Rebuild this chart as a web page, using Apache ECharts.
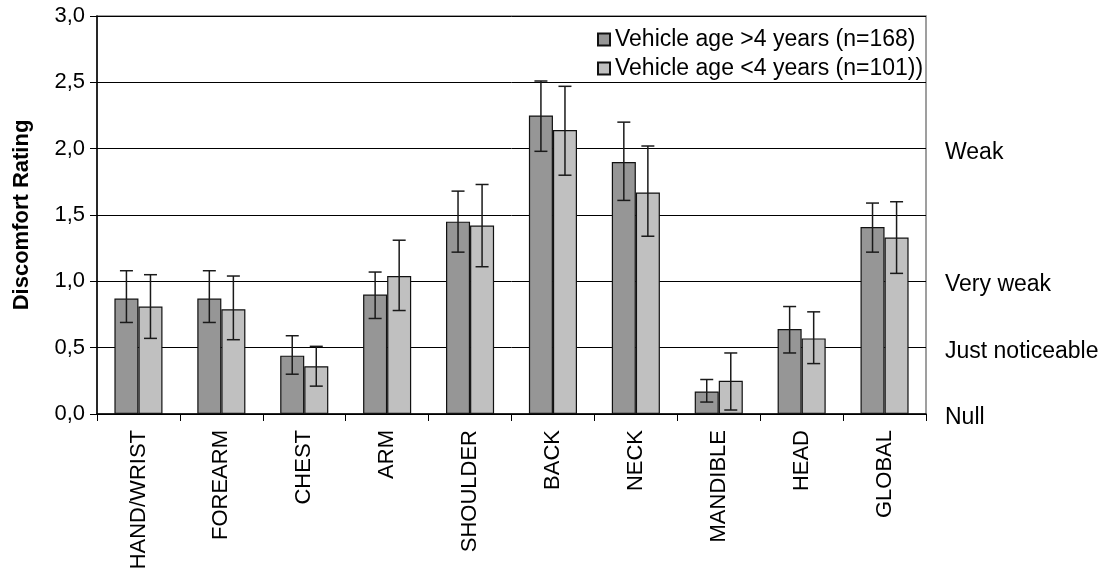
<!DOCTYPE html>
<html>
<head>
<meta charset="utf-8">
<script src="https://cdn.jsdelivr.net/npm/echarts@6/dist/echarts.min.js"></script>
<style>html,body{margin:0;padding:0;background:#fff;}#c{width:1105px;height:573px;}</style>
</head>
<body>
<div id="c"></div>
<script>
var categories = ['HAND/WRIST','FOREARM','CHEST','ARM','SHOULDER','BACK','NECK','MANDIBLE','HEAD','GLOBAL'];
var seriesNames = ['Vehicle age >4 years (n=168)', 'Vehicle age <4 years (n=101))'];
var olderMean = [0.87,0.87,0.44,0.90,1.45,2.25,1.90,0.17,0.64,1.41];
var olderLow  = [0.69,0.69,0.30,0.72,1.22,1.98,1.61,0.09,0.46,1.22];
var olderHigh = [1.08,1.08,0.59,1.07,1.68,2.51,2.20,0.26,0.81,1.59];
var newerMean = [0.81,0.79,0.36,1.04,1.42,2.14,1.67,0.25,0.57,1.33];
var newerLow  = [0.57,0.56,0.21,0.78,1.11,1.80,1.34,0.03,0.38,1.06];
var newerHigh = [1.05,1.04,0.51,1.31,1.73,2.47,2.02,0.46,0.77,1.60];
var yTicks = [0, 0.5, 1.0, 1.5, 2.0, 2.5, 3.0];
var rightLabels = {'0': 'Null', '0.5': 'Just noticeable', '1': 'Very weak', '2': 'Weak'};

var FONT = 'Liberation Sans, Arial, sans-serif';
var BAR_FRAC = 0.29;

function errData(low, high) {
  return categories.map(function (c, i) { return [i, low[i], high[i]]; });
}
function errRender(side) {
  return function (params, api) {
    var i = api.value(0);
    var band = api.size([1, 0])[0];
    var off = side * band * BAR_FRAC / 2;
    var lo = api.coord([i, api.value(1)]);
    var hi = api.coord([i, api.value(2)]);
    var x = lo[0] + off;
    var cap = 6.5;
    var st = { stroke: '#1a1a1a', lineWidth: 1.5 };
    return {
      type: 'group',
      children: [
        { type: 'line', shape: { x1: x, y1: hi[1], x2: x, y2: lo[1] }, style: st },
        { type: 'line', shape: { x1: x - cap, y1: hi[1], x2: x + cap, y2: hi[1] }, style: st },
        { type: 'line', shape: { x1: x - cap, y1: lo[1], x2: x + cap, y2: lo[1] }, style: st }
      ]
    };
  };
}

var chart = echarts.init(document.getElementById('c'), null, { renderer: 'canvas' });
chart.setOption({
  animation: false,
  textStyle: { fontFamily: FONT },
  grid: { left: 97, right: 179, top: 16, bottom: 159, show: true, borderColor: '#808080', borderWidth: 1.5, backgroundColor: 'transparent' },
  legend: {
    data: seriesNames,
    orient: 'vertical',
    left: 592, top: 23,
    icon: 'rect', itemWidth: 12, itemHeight: 12, itemGap: 6,
    textStyle: { fontSize: 23, color: '#000', fontFamily: FONT }
  },
  xAxis: {
    type: 'category', data: categories,
    axisLine: { lineStyle: { color: '#000', width: 1.5 } },
    axisTick: { show: true, length: 7, inside: false, alignWithLabel: false, lineStyle: { color: '#000' } },
    axisLabel: { rotate: 90, fontSize: 22, color: '#000', margin: 16, fontFamily: FONT, interval: 0 }
  },
  yAxis: [{
    type: 'value', min: 0, max: 3, interval: 0.5,
    name: 'Discomfort Rating', nameLocation: 'middle', nameGap: 64,
    nameTextStyle: { fontSize: 22, fontWeight: 'bold', color: '#000', fontFamily: FONT },
    axisLine: { show: true, lineStyle: { color: '#000', width: 1.5 } },
    axisTick: { show: true, length: 7, lineStyle: { color: '#000' } },
    axisLabel: { fontSize: 22, color: '#000', margin: 12, fontFamily: FONT,
      formatter: function (v) { return v.toFixed(1).replace('.', ','); } },
    splitLine: { show: true, lineStyle: { color: '#000', width: 1 } }
  }, {
    type: 'value', min: 0, max: 3, interval: 0.5, position: 'right',
    axisLine: { show: false }, axisTick: { show: false }, splitLine: { show: false },
    axisLabel: { color: '#000', margin: 19, fontFamily: FONT,
      formatter: function (v) { var t = rightLabels[String(v)]; return t ? '{s|' + t + '}' : ''; },
      rich: { s: { fontSize: 23, color: '#000', fontFamily: FONT, padding: [7, 0, 0, 0] } } }
  }],
  series: [
    { name: seriesNames[0], type: 'bar', data: olderMean, barWidth: (BAR_FRAC * 100) + '%', barGap: '0%',
      itemStyle: { color: '#969696', borderColor: '#111', borderWidth: 1.2 }, z: 2 },
    { name: seriesNames[1], type: 'bar', data: newerMean, barWidth: (BAR_FRAC * 100) + '%', barGap: '0%',
      itemStyle: { color: '#c0c0c0', borderColor: '#111', borderWidth: 1.2 }, z: 2 },
    { type: 'custom', data: errData(olderLow, olderHigh), renderItem: errRender(-1), z: 5, silent: true },
    { type: 'custom', data: errData(newerLow, newerHigh), renderItem: errRender(1), z: 5, silent: true }
  ]
});
</script>
</body>
</html>
